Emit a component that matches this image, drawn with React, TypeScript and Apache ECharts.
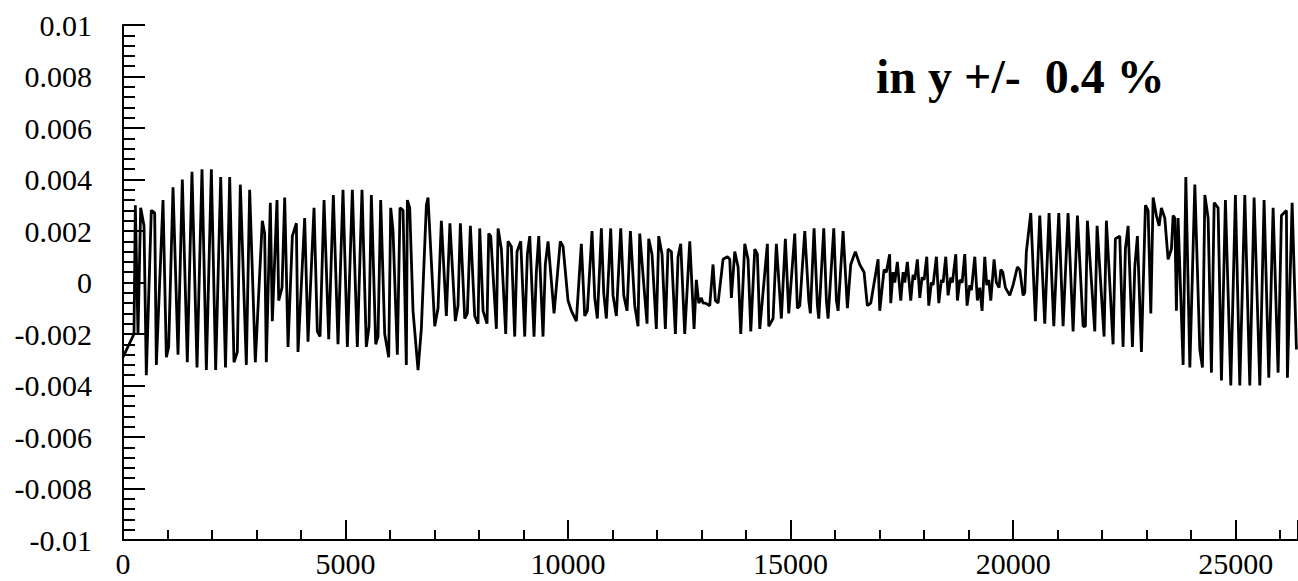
import React, { useEffect, useRef } from "react";
import * as echarts from "echarts";

const xTickLabels = ["0", "5000", "10000", "15000", "20000", "25000"];
const yTickLabels = ["-0.01", "-0.008", "-0.006", "-0.004", "-0.002", "0", "0.002", "0.004", "0.006", "0.008", "0.01"];
const annotation = "in y +/-  0.4 %";

const xValues = [
  0, 247, 277, 337, 397, 472, 524, 636, 712, 749, 899, 974, 1026, 1124, 1236, 1333, 1445, 1550, 1663, 1775, 1873, 1985, 2082, 2195, 2303,
  2397, 2494, 2569, 2636, 2771, 2846, 2973, 3130, 3183, 3220, 3310, 3355, 3460, 3498, 3573, 3633, 3708, 3805, 3895, 3932, 4082, 4157, 4292, 4366, 4427, 4517, 4622, 4726, 4831,
  4943, 5041, 5153, 5265, 5370, 5467, 5528, 5580, 5678, 5730, 5790, 5880, 5970, 6015, 6067, 6164, 6224, 6292, 6366, 6389, 6442, 6516, 6629, 6703, 6816, 6853, 7004, 7078, 7153, 7265, 7345,
  7467, 7527, 7580, 7678, 7737, 7805, 7902, 7977, 8015, 8090, 8179, 8217, 8262, 8389, 8427, 8501, 8599, 8651, 8726, 8801, 8853, 8936, 9026, 9085, 9139, 9235, 9287, 9341, 9437, 9489, 9550, 9685, 9825,
  9887, 9999, 10074, 10186, 10298, 10374, 10433, 10538, 10599, 10658, 10748, 10801, 10860, 10958, 11010, 11085, 11183, 11251, 11325, 11400, 11498, 11572, 11610, 11707, 11774, 11812, 11886, 11983, 12037, 12111, 12186, 12246,
  12321, 12411, 12471, 12531, 12621, 12734, 12831, 12882, 12936, 12994, 13033, 13085, 13183, 13257, 13309, 13370, 13482, 13579, 13633, 13669, 13745, 13820, 13880, 13970, 14044, 14105, 14195, 14253, 14307, 14478, 14509, 14606, 14680,
  14792, 14882, 14958, 15093, 15152, 15206, 15318, 15408, 15444, 15527, 15602, 15633, 15745, 15804, 15842, 15970, 16029, 16067, 16179, 16276, 16351, 16454, 16553, 16650, 16724, 16801, 16965, 17003, 17100, 17151, 17225,
  17250, 17302, 17340, 17398, 17475, 17527, 17564, 17623, 17699, 17751, 17789, 17848, 17902, 17953, 17999, 18059, 18104, 18163, 18201, 18276, 18329, 18388, 18426, 18486, 18538, 18599, 18636, 18711, 18748, 18802, 18853, 18913, 18965, 19026, 19062, 19138, 19196, 19250, 19302, 19362, 19407, 19452, 19497, 19572, 19623, 19684,
  19722, 19767, 19826, 19924, 19998, 20095, 20149, 20223, 20261, 20297, 20396, 20500, 20598, 20710, 20807, 20913, 21025, 21122, 21234, 21347, 21444, 21572, 21623, 21668, 21834, 21886, 22043, 22095,
  22245, 22297, 22395, 22470, 22522, 22583, 22680, 22733, 22792, 22882, 22972, 23032, 23093, 23145, 23219, 23280, 23331, 23407, 23481, 23556, 23594, 23632, 23668, 23706, 23819, 23880, 23970, 24082, 24194, 24253, 24307, 24381, 24455, 24516, 24605,
  24680, 24769, 24890, 24994, 25092, 25205, 25317, 25414, 25542, 25638, 25744, 25841, 25953, 26028, 26140, 26162, 26268, 26365,
];

const yValues = [
  -0.0029, -0.002, 0.003, -0.002, 0.0029, 0.0022, -0.0036, 0.0028, 0.0027, -0.0032, 0.0032, -0.0029, -0.0025, 0.0037, -0.0028, 0.004, -0.0031, 0.0043, -0.0033, 0.0044, -0.0034, 0.0044, -0.0034, 0.0041, -0.0033,
  0.0041, -0.0031, -0.0027, 0.0038, -0.0032, 0.0036, -0.0031, 0.0024, 0.0019, -0.0031, 0.0031, -0.0015, 0.0032, -0.0007, -0.0002, 0.0033, -0.0025, 0.0018, 0.0023, -0.0027, 0.0025, -0.0023, 0.0029, -0.0019, -0.0021, 0.0032, -0.0022, 0.0034, -0.0024,
  0.0036, -0.0025, 0.0036, -0.0025, 0.0036, -0.0025, -0.0017, 0.0034, -0.0024, -0.0021, 0.0032, -0.002, -0.0029, 0.0029, 0.002, -0.0028, 0.0029, 0.0028, -0.0032, 0.0032, 0.0029, -0.0011, -0.0034, -0.0018, 0.003, 0.0033, -0.0017, -0.001, 0.0024, -0.0013, 0.0023,
  -0.0015, -0.0009, 0.0023, -0.0014, -0.0012, 0.0022, -0.0013, -0.0016, 0.0021, -0.0011, -0.0016, 0.0019, 0.0018, -0.0018, 0.0021, 0.0013, -0.002, 0.0016, 0.0014, -0.0021, 0.0012, 0.0016, -0.0021, 0.0011, 0.0018, -0.0021, 0.0004, 0.0018, -0.0021, 0.0007, 0.0016, -0.0012, 0.0016,
  0.0014, -0.0007, -0.0011, -0.0015, 0.0015, -0.0013, -0.0011, 0.002, -0.0006, -0.0014, 0.0021, -0.0004, -0.0014, 0.0021, -0.0005, -0.0013, 0.0021, -0.0005, -0.0011, 0.002, -0.0009, -0.0017, 0.0019, -0.0002, -0.0016, 0.0017, 0.0011, -0.0018, 0.0018, 0.0011, -0.0018, 0.0013,
  0.0012, -0.002, 0.001, 0.0015, -0.002, 0.0016, -0.0018, 0.0001, -0.0008, -0.0006, -0.0008, -0.0008, -0.0009, 0.0007, -0.0007, -0.0008, 0.0009, 0.001, 0.0009, -0.0006, 0.0012, 0.0006, -0.002, 0.0015, 0.0009, -0.0019, 0.0013, 0.0011, -0.0018, 0.0015, -0.0017, -0.0014, 0.0015,
  -0.0014, 0.0017, -0.0012, 0.0019, -0.001, -0.0009, 0.002, -0.0007, -0.0012, 0.0021, -0.0009, -0.0014, 0.0021, -0.0007, -0.0014, 0.0021, -0.0007, -0.0011, 0.002, -0.001, 0.0007, 0.0012, 0.0007, 0.0004, -0.0009, -0.0008, 0.0009, -0.0011, 0.0005, 0.0004, 0.0011,
  -0.0008, 0.0004, 0.0, 0.0008, -0.0007, 0.0004, 0.0, 0.0008, -0.0007, 0.0003, 0.0001, 0.0009, -0.0006, 0.0002, 0.0001, 0.001, -0.0009, 0.0, -0.0001, 0.001, -0.0008, 0.0001, 0.0, 0.001, -0.0005, 0.0002, 0.0, 0.0011, -0.0007, 0.0001, 0.0, 0.0011, -0.0009, -0.0001, -0.0003, 0.001, -0.0007, -0.0002, -0.0011, 0.001, -0.0001, 0.0001, -0.0007, 0.0009, 0.0, -0.0002,
  0.0005, 0.0004, -0.0002, -0.0005, -0.0001, 0.0006, 0.0005, -0.0005, -0.0004, 0.0012, 0.0027, -0.0015, 0.0026, -0.0016, 0.0027, -0.0017, 0.0027, -0.0017, 0.0027, -0.0019, 0.0026, -0.0017, -0.0017, 0.0024, -0.0019, 0.0022, -0.0021, 0.0024,
  -0.0024, 0.0017, 0.0018, -0.0025, 0.0013, 0.0022, -0.0025, 0.0006, 0.0018, -0.0027, 0.003, 0.0028, -0.0012, 0.0033, 0.0026, 0.0022, 0.0029, 0.0025, 0.0009, 0.0013, 0.0026, 0.0025, -0.0011, 0.0025, -0.0032, 0.0041, -0.0033, 0.0038, -0.0026, -0.0033, 0.0034, 0.0025, -0.0035, 0.0031, 0.0029,
  -0.0038, 0.0032, -0.004, 0.0034, -0.004, 0.0034, -0.004, 0.0033, -0.004, 0.0032, -0.0037, 0.0029, -0.0035, 0.0026, 0.0028, -0.0037, 0.0031, -0.0026,
];

const FONT = '"Liberation Serif", "Times New Roman", serif';

export default function App() {
  const ref = useRef<HTMLDivElement>(null);
  useEffect(() => {
    if (!ref.current) return;
    const chart = echarts.init(ref.current, null, { renderer: "svg" });
    const data = xValues.map((x, i) => [x, yValues[i]]);
    const fmtY = (v: number) => {
      const s = parseFloat(v.toFixed(4)).toString();
      return yTickLabels.includes(s) ? s : "";
    };
    const fmtX = (v: number) => {
      const s = String(Math.round(v));
      return xTickLabels.includes(s) ? s : "";
    };
    chart.setOption({
      animation: false,
      backgroundColor: "#fff",
      grid: { left: 123, right: 0, top: 25, bottom: 41, containLabel: false },
      xAxis: {
        type: "value",
        min: 0,
        max: 26400,
        interval: 5000,
        axisLine: { show: true, onZero: false, lineStyle: { color: "#000", width: 2 } },
        axisTick: { show: true, inside: true, length: 20, lineStyle: { color: "#000", width: 2 } },
        minorTick: { show: true, splitNumber: 5, length: 10, lineStyle: { color: "#000", width: 2 } },
        splitLine: { show: false },
        minorSplitLine: { show: false },
        axisLabel: {
          color: "#000",
          fontFamily: FONT,
          fontSize: 30,
          margin: 8,
          showMaxLabel: false,
          formatter: fmtX,
        },
      },
      yAxis: {
        type: "value",
        min: -0.01,
        max: 0.01,
        interval: 0.002,
        axisLine: { show: true, onZero: false, lineStyle: { color: "#000", width: 2 } },
        axisTick: { show: true, inside: true, length: 22, lineStyle: { color: "#000", width: 2 } },
        minorTick: { show: true, splitNumber: 5, length: 12, lineStyle: { color: "#000", width: 2 } },
        splitLine: { show: false },
        minorSplitLine: { show: false },
        axisLabel: {
          color: "#000",
          fontFamily: FONT,
          fontSize: 30,
          margin: 31,
          formatter: fmtY,
        },
      },
      graphic: [
        {
          type: "text",
          left: 876,
          top: 52,
          style: {
            text: annotation,
            fill: "#000",
            font: 'bold 48px "Liberation Serif", "Times New Roman", serif',
          },
        },
      ],
      series: [
        {
          type: "line",
          data,
          showSymbol: false,
          symbol: "none",
          lineStyle: { color: "#000", width: 2.8 },
          clip: true,
        },
      ],
    });
    return () => chart.dispose();
  }, []);
  return <div ref={ref} style={{ position: "fixed", left: 0, top: 0, width: 1298, height: 581 }} />;
}
